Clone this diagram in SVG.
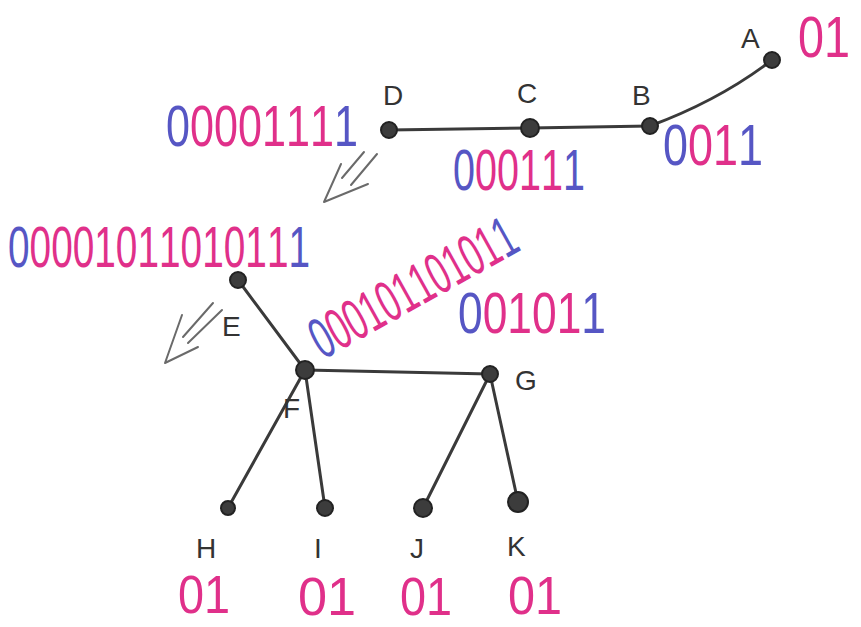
<svg xmlns="http://www.w3.org/2000/svg" width="861" height="627" viewBox="0 0 861 627">
<style>
.edge{stroke:#3a3a3a;stroke-width:3;fill:none;stroke-linecap:round}
.node{fill:#3c3c3c;stroke:#222;stroke-width:2}
.lbl{font-family:"Liberation Sans",Arial,sans-serif;font-size:28px;fill:#333}
.bits{font-family:"Liberation Sans",Arial,sans-serif;font-size:58px;fill:#e0308a}
.sm{font-size:54px}
.b{fill:#5656c4}
.arrow{stroke:#6a6a6a;stroke-width:2;fill:none;stroke-linejoin:round;stroke-linecap:round}
</style>
<rect width="861" height="627" fill="#fff"/>
<g id="connectors">
<path class="edge" d="M389,130 L530,128 L650,126"/>
<path class="edge" d="M650,126 Q720,100 772,60"/>
<path class="edge" d="M238,280 L305,370"/>
<path class="edge" d="M305,370 L490,374"/>
<path class="edge" d="M305,370 L228,508"/>
<path class="edge" d="M305,370 L325,508"/>
<path class="edge" d="M490,374 L423,508"/>
<path class="edge" d="M490,374 L518,502"/>
</g>
<g id="arrow1">
<path class="arrow" d="M364,152 L342,178 M377,154 L351,185 M341,164 L324,202 L368,184"/>
</g>
<g id="arrow2">
<path class="arrow" d="M213,303 L183,337 M222,310 L188,343 M182,315 L165,363 L198,347"/>
</g>
<g id="A"><circle class="node" cx="772" cy="60" r="8"/><text class="lbl" x="741" y="48">A</text>
<g transform="translate(798,57) scale(0.806,1)"><text class="bits" x="0 32.25">01</text></g></g>
<g id="B"><circle class="node" cx="650" cy="126" r="8"/><text class="lbl" x="632" y="105">B</text>
<g transform="translate(663,165) scale(0.775,1)">
<text class="bits" x="0 32.25 64.5 96.75"><tspan class="b">0</tspan>01<tspan class="b">1</tspan></text></g></g>
<g id="C"><circle class="node" cx="530" cy="128" r="9"/><text class="lbl" x="517" y="103">C</text>
<g transform="translate(453,190) scale(0.682,1)">
<text class="bits" x="0 32.25 64.5 96.75 129 161.25"><tspan class="b">0</tspan>0011<tspan class="b">1</tspan></text></g></g>
<g id="D"><circle class="node" cx="389" cy="130" r="8"/><text class="lbl" x="383" y="105">D</text>
<g transform="translate(166,146) scale(0.744,1)">
<text class="bits" x="0 32.25 64.5 96.75 129 161.25 193.5 225.75"><tspan class="b">0</tspan>000111<tspan class="b">1</tspan></text></g></g>
<g id="E"><circle class="node" cx="238" cy="280" r="8"/><text class="lbl" x="222" y="336">E</text>
<g transform="translate(8,267) scale(0.669,1)">
<text class="bits" x="0 32.25 64.5 96.75 129 161.25 193.5 225.75 258 290.25 322.5 354.75 387 419.25"><tspan class="b">0</tspan>000101101011<tspan class="b">1</tspan></text></g></g>
<g id="F"><circle class="node" cx="305" cy="370" r="9"/><text class="lbl" x="283" y="418">F</text>
<g transform="translate(323,360) rotate(-29) scale(0.589,1)">
<text class="bits" x="0 32.25 64.5 96.75 129 161.25 193.5 225.75 258 290.25 322.5 354.75"><tspan class="b">0</tspan>0010110101<tspan class="b">1</tspan></text></g></g>
<g id="G"><circle class="node" cx="490" cy="374" r="8"/><text class="lbl" x="515" y="390">G</text>
<g transform="translate(458,333) scale(0.765,1)">
<text class="bits" x="0 32.25 64.5 96.75 129 161.25"><tspan class="b">0</tspan>0101<tspan class="b">1</tspan></text></g></g>
<g id="H"><circle class="node" cx="228" cy="508" r="7"/><text class="lbl" x="196" y="558">H</text>
<g transform="translate(178,613) scale(0.867,1)"><text class="bits sm" x="0 30">01</text></g></g>
<g id="I"><circle class="node" cx="325" cy="508" r="8"/><text class="lbl" x="314" y="558">I</text>
<g transform="translate(298,615) scale(0.967,1)"><text class="bits sm" x="0 30">01</text></g></g>
<g id="J"><circle class="node" cx="423" cy="508" r="9"/><text class="lbl" x="410" y="558">J</text>
<g transform="translate(400,615) scale(0.867,1)"><text class="bits sm" x="0 30">01</text></g></g>
<g id="K"><circle class="node" cx="518" cy="502" r="10"/><text class="lbl" x="507" y="556">K</text>
<g transform="translate(508,614) scale(0.9,1)"><text class="bits sm" x="0 30">01</text></g></g>
</svg>
